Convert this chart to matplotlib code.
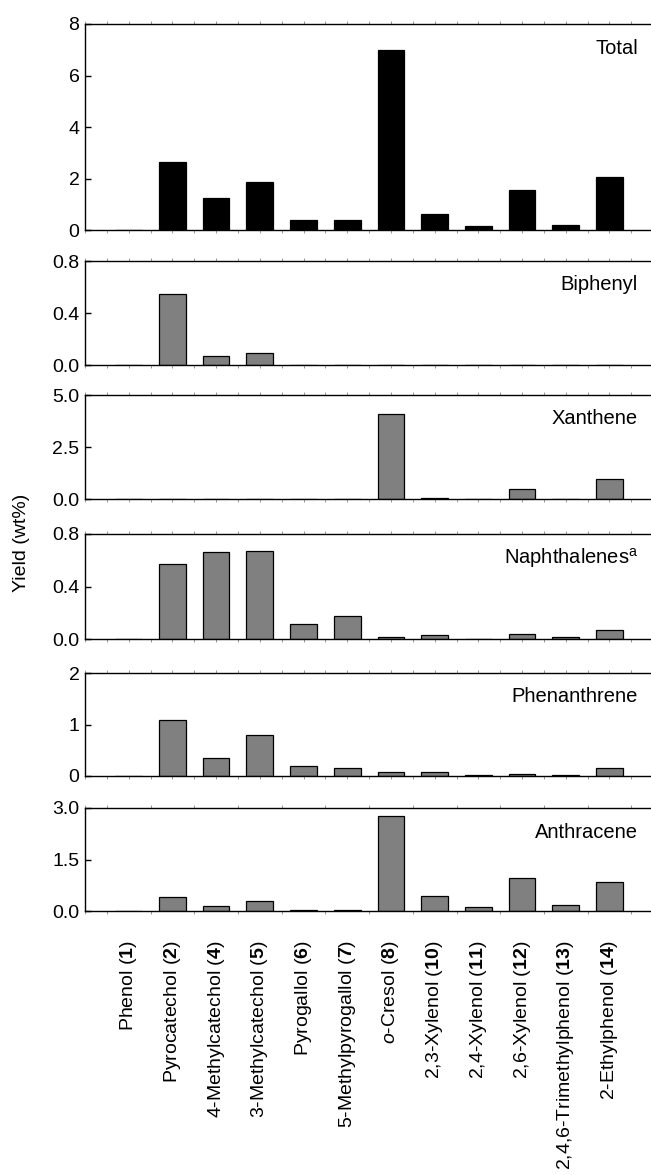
import matplotlib
matplotlib.use("Agg")
import matplotlib.pyplot as plt
import numpy as np

plt.rcParams['font.family'] = ['Liberation Sans', 'DejaVu Sans']
plt.rcParams['mathtext.fontset'] = 'custom'
plt.rcParams['mathtext.rm'] = 'Liberation Sans'
plt.rcParams['mathtext.it'] = 'Liberation Sans:italic'
plt.rcParams['mathtext.bf'] = 'Liberation Sans:bold'

# compounds (x axis)
compounds = [r"Phenol ($\mathbf{1}$)", r"Pyrocatechol ($\mathbf{2}$)",
             r"4-Methylcatechol ($\mathbf{4}$)", r"3-Methylcatechol ($\mathbf{5}$)",
             r"Pyrogallol ($\mathbf{6}$)", r"5-Methylpyrogallol ($\mathbf{7}$)",
             r"$\mathit{o}$-Cresol ($\mathbf{8}$)", r"2,3-Xylenol ($\mathbf{10}$)",
             r"2,4-Xylenol ($\mathbf{11}$)", r"2,6-Xylenol ($\mathbf{12}$)",
             r"2,4,6-Trimethylphenol ($\mathbf{13}$)", r"2-Ethylphenol ($\mathbf{14}$)"]

# yields (wt%)
total = [0, 2.65, 1.25, 1.87, 0.39, 0.40, 7.0, 0.62, 0.14, 1.55, 0.21, 2.07]
biphenyl = [0, 0.55, 0.07, 0.09, 0, 0, 0, 0, 0, 0, 0, 0]
xanthene = [0, 0, 0, 0, 0, 0, 4.09, 0.04, 0, 0.46, 0, 0.96]
naphthalenes = [0, 0.571, 0.663, 0.673, 0.112, 0.178, 0.018, 0.033, 0.002, 0.038, 0.013, 0.071]
phenanthrene = [0, 1.09, 0.35, 0.80, 0.20, 0.15, 0.08, 0.08, 0.01, 0.04, 0.02, 0.16]
anthracene = [0, 0.40, 0.14, 0.28, 0.02, 0.03, 2.77, 0.44, 0.11, 0.97, 0.17, 0.84]

panel_names = ["Total", "Biphenyl", "Xanthene", r"Naphthalenes$^{\mathrm{a}}$",
               "Phenanthrene", "Anthracene"]
panel_data = [total, biphenyl, xanthene, naphthalenes, phenanthrene, anthracene]
panel_ticks = [[0, 2, 4, 6, 8], [0.0, 0.4, 0.8], [0.0, 2.5, 5.0],
               [0.0, 0.4, 0.8], [0, 1, 2], [0.0, 1.5, 3.0]]
tick_fmt = ["{:.0f}", "{:.1f}", "{:.1f}", "{:.1f}", "{:.0f}", "{:.1f}"]

W, H = 651, 1175
fig = plt.figure(figsize=(W / 100, H / 100), dpi=100)

# panel (top, bottom) in pixels
rows = [(24, 230), (261, 365), (395, 499), (534, 639), (673, 776), (808, 911)]
left_px = 85

x = np.arange(len(compounds))
for i, (name, vals, ticks, fmt, (t, b)) in enumerate(
        zip(panel_names, panel_data, panel_ticks, tick_fmt, rows)):
    ax = fig.add_axes([left_px / W, 1 - b / H, (W - left_px) / W, (b - t) / H])
    color = 'black' if i == 0 else '#808080'
    ax.bar(x, vals, width=0.61, color=color, edgecolor='black', linewidth=0.9)
    ax.set_xlim(-1, 11.95)
    ax.set_ylim(ticks[0], ticks[-1])
    ax.set_yticks(ticks)
    ax.set_yticklabels([fmt.format(v) for v in ticks], fontsize=14)
    ax.tick_params(axis='y', direction='in', length=4, width=1, pad=4)
    ax.spines['right'].set_visible(False)
    for s in ['left', 'top', 'bottom']:
        ax.spines[s].set_linewidth(1.0)
    ax.text(553 / 566, 1 - 24 / (b - t), name, transform=ax.transAxes,
            ha='right', va='center', fontsize=14.5)
    ax.set_xticks(np.arange(-1, 12, 0.5), minor=True)
    ax.tick_params(axis='x', which='minor', direction='out', length=2, width=0.6,
                   color='#888888', top=True, bottom=True)
    if i == len(panel_names) - 1:
        ax.set_xticks(x)
        ax.set_xticklabels(compounds, rotation=90, fontsize=14, va='top', ha='center')
        ax.tick_params(axis='x', which='major', length=0, pad=21)
    else:
        ax.set_xticks([])

fig.text(22 / W, 1 - 543 / H, "Yield (wt%)", rotation=90, ha='center', va='center',
         fontsize=14)

fig.savefig("out.png", dpi=100)
